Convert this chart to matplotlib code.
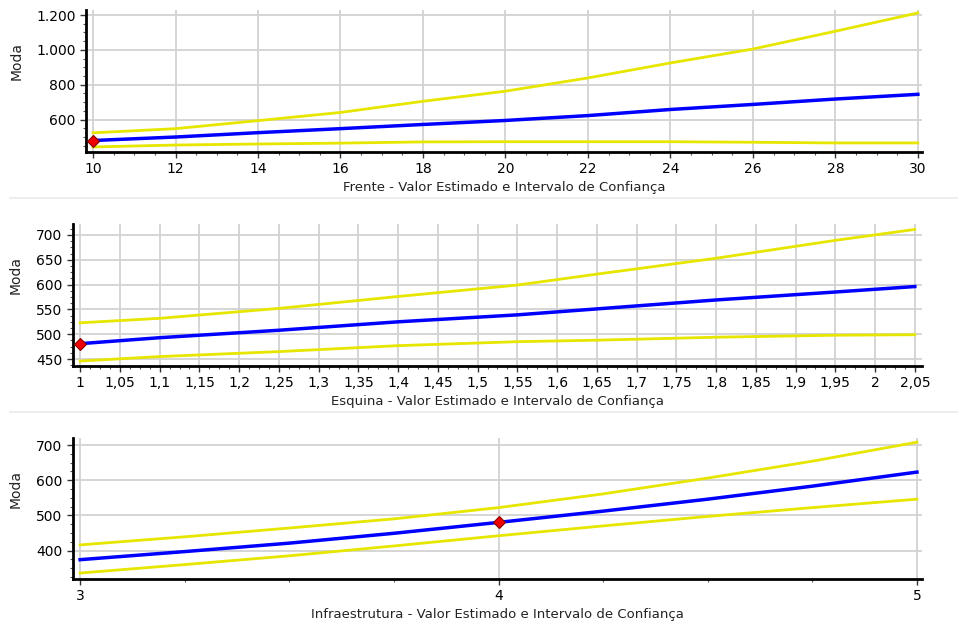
import matplotlib
matplotlib.use("Agg")
import matplotlib.pyplot as plt
from matplotlib.ticker import MultipleLocator, AutoMinorLocator, FuncFormatter
from matplotlib.lines import Line2D

# Frente
frente_x = [10, 12, 14, 16, 18, 20, 22, 24, 26, 28, 30]
frente_est = [480, 500, 525, 548, 572, 595, 623, 658, 687, 718, 745]
frente_sup = [524, 548, 594, 641, 705, 763, 839, 925, 1005, 1107, 1212]
frente_inf = [443, 454, 460, 465, 472, 473, 473, 473, 470, 466, 466]
frente_ponto = (10, 480)

# Esquina
esquina_x = [1, 1.1, 1.25, 1.4, 1.55, 1.65, 1.8, 1.95, 2.05]
esquina_est = [481, 493, 508, 525, 539, 551, 569, 585, 596]
esquina_sup = [523, 532, 552, 576, 599, 621, 653, 689, 711]
esquina_inf = [446, 455, 465, 477, 485, 488, 494, 498, 499]
esquina_ponto = (1, 481)

# Infraestrutura
infra_x = [3, 3.25, 3.5, 3.75, 4, 4.25, 4.5, 4.75, 5]
infra_est = [374, 397, 421, 449, 480, 512, 546, 583, 623]
infra_sup = [416, 439, 464, 490, 522, 561, 606, 654, 708]
infra_inf = [336, 360, 385, 413, 442, 470, 497, 522, 546]
infra_ponto = (4, 480)

YELLOW = '#e6e600'
BLUE = '#0000ff'
GRID = '#d2d2d2'


def fmt_num(v, pos=None):
    # numeros no formato brasileiro: 1.200 e 1,05
    if abs(v - round(v)) < 1e-9:
        return f"{int(round(v)):,}".replace(',', '.')
    s = f"{v:.2f}".rstrip('0').rstrip('.')
    return s.replace('.', ',')


def setup_axis(ax, xlim, ylim, xmajor, ymajor, xlabel, ylab_x):
    ax.set_xlim(*xlim)
    ax.set_ylim(*ylim)
    ax.xaxis.set_major_locator(MultipleLocator(xmajor))
    ax.yaxis.set_major_locator(MultipleLocator(ymajor))
    ax.xaxis.set_minor_locator(AutoMinorLocator(4))
    ax.yaxis.set_minor_locator(AutoMinorLocator(4))
    ax.xaxis.set_major_formatter(FuncFormatter(fmt_num))
    ax.yaxis.set_major_formatter(FuncFormatter(fmt_num))
    for s in ['top', 'right']:
        ax.spines[s].set_visible(False)
    for s in ['left', 'bottom']:
        ax.spines[s].set_linewidth(2)
        ax.spines[s].set_color('black')
    ax.tick_params(which='major', length=4, width=1, labelsize=10, color='#333333')
    ax.tick_params(which='minor', length=2.5, width=0.8, color='#555555')
    ax.grid(True, which='major', color=GRID, linewidth=1.3)
    ax.set_axisbelow(True)
    ax.set_xlabel(xlabel, fontsize=9.5, color='#222222', labelpad=3)
    ax.set_ylabel('Moda', fontsize=10, color='#222222')
    ax.yaxis.set_label_coords(ylab_x, 0.64)


def draw(ax, x, est, sup, inf, ponto):
    ax.plot(x, sup, color=YELLOW, lw=2, clip_on=False)
    ax.plot(x, inf, color=YELLOW, lw=2, clip_on=False)
    ax.plot(x, est, color=BLUE, lw=2.5, clip_on=False)
    ax.plot([ponto[0]], [ponto[1]], marker='D', ms=6, color='#ee0000',
            mec='#880000', mew=0.8, clip_on=False, zorder=5)


fig = plt.figure(figsize=(9.58, 6.23), dpi=100)

ax1 = fig.add_axes([0.0898, 0.756, 0.8726, 0.228])
draw(ax1, frente_x, frente_est, frente_sup, frente_inf, frente_ponto)
setup_axis(ax1, (9.83, 30.1), (414, 1229), 2, 200,
           'Frente - Valor Estimado e Intervalo de Confiança', -0.075)

ax2 = fig.add_axes([0.0762, 0.4125, 0.8862, 0.228])
draw(ax2, esquina_x, esquina_est, esquina_sup, esquina_inf, esquina_ponto)
setup_axis(ax2, (0.991, 2.059), (436, 722), 0.05, 50,
           'Esquina - Valor Estimado e Intervalo de Confiança', -0.059)

ax3 = fig.add_axes([0.0762, 0.0706, 0.8862, 0.2264])
draw(ax3, infra_x, infra_est, infra_sup, infra_inf, infra_ponto)
setup_axis(ax3, (2.983, 5.012), (319, 720), 1, 100,
           'Infraestrutura - Valor Estimado e Intervalo de Confiança', -0.059)

# linhas separadoras entre os paineis
for yy in [1 - 198 / 623, 1 - 412 / 623]:
    fig.add_artist(Line2D([0.01, 1.0], [yy, yy], transform=fig.transFigure,
                          color='#eaeaea', lw=1.2))

fig.savefig('out.png', dpi=100)
